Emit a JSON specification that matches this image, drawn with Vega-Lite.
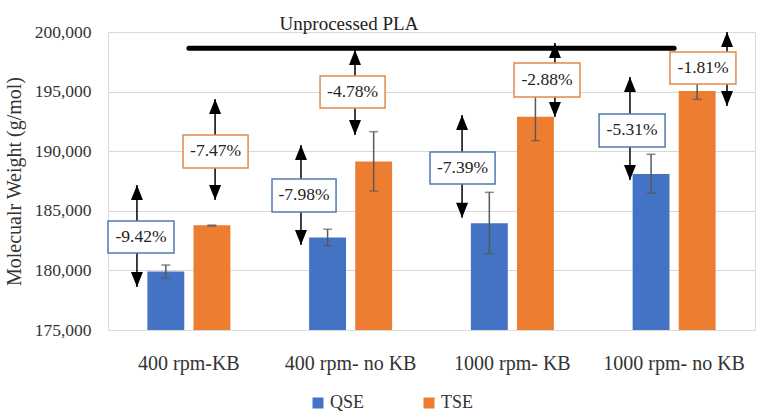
{
  "$schema": "https://vega.github.io/schema/vega-lite/v6.json",
  "width": 647,
  "height": 298,
  "autosize": "none",
  "padding": {"left": 108, "top": 32, "right": 11, "bottom": 88},
  "background": "white",
  "config": {
    "font": "Liberation Serif",
    "view": {"stroke": "#d9d9d9", "strokeWidth": 1},
    "axis": {"gridColor": "#d9d9d9", "gridWidth": 1, "domain": false, "ticks": false, "labelColor": "#333333", "titleColor": "#333333", "labelFont": "Liberation Serif", "titleFont": "Liberation Serif", "titleFontWeight": "normal"},
    "legend": {"labelFont": "Liberation Serif"},
    "text": {"font": "Liberation Serif"}
  },
  "datasets": {
    "bars": [
      {"group": "400 rpm-KB", "series": "QSE", "value": 179900, "lo": 179360, "hi": 180450},
      {"group": "400 rpm-KB", "series": "TSE", "value": 183780, "lo": 183720, "hi": 183800},
      {"group": "400 rpm- no KB", "series": "QSE", "value": 182770, "lo": 182070, "hi": 183450},
      {"group": "400 rpm- no KB", "series": "TSE", "value": 189130, "lo": 186660, "hi": 191640},
      {"group": "1000 rpm- KB", "series": "QSE", "value": 183950, "lo": 181380, "hi": 186550},
      {"group": "1000 rpm- KB", "series": "TSE", "value": 192900, "lo": 190880, "hi": 194940},
      {"group": "1000 rpm- no KB", "series": "QSE", "value": 188080, "lo": 186470, "hi": 189740},
      {"group": "1000 rpm- no KB", "series": "TSE", "value": 195050, "lo": 194350, "hi": 195800}
    ],
    "notes": [
      {"label": "-9.42%", "series": "QSE", "bx1": 0.0, "bx2": 0.408, "by1": 181460, "by2": 184144, "tx": 0.204, "ty": 182800, "ax": 0.179, "up": 187164, "down": 178607},
      {"label": "-7.47%", "series": "TSE", "bx1": 0.464, "bx2": 0.866, "by1": 188591, "by2": 191359, "tx": 0.665, "ty": 189975, "ax": 0.662, "up": 194379, "down": 185906},
      {"label": "-7.98%", "series": "QSE", "bx1": 1.014, "bx2": 1.41, "by1": 184899, "by2": 187668, "tx": 1.212, "ty": 186284, "ax": 1.193, "up": 190520, "down": 182131},
      {"label": "-4.78%", "series": "TSE", "bx1": 1.311, "bx2": 1.713, "by1": 193624, "by2": 196309, "tx": 1.512, "ty": 194966, "ax": 1.527, "up": 198490, "down": 191359},
      {"label": "-7.39%", "series": "QSE", "bx1": 1.991, "bx2": 2.393, "by1": 187248, "by2": 189933, "tx": 2.192, "ty": 188591, "ax": 2.189, "up": 193037, "down": 184421},
      {"label": "-2.88%", "series": "TSE", "bx1": 2.51, "bx2": 2.918, "by1": 194547, "by2": 197399, "tx": 2.714, "ty": 195973, "ax": 2.763, "up": 199077, "down": 192869},
      {"label": "-5.31%", "series": "QSE", "bx1": 3.036, "bx2": 3.444, "by1": 190352, "by2": 193121, "tx": 3.24, "ty": 191737, "ax": 3.227, "up": 196225, "down": 187584},
      {"label": "-1.81%", "series": "TSE", "bx1": 3.474, "bx2": 3.882, "by1": 195638, "by2": 198322, "tx": 3.679, "ty": 196980, "ax": 3.827, "up": 200000, "down": 193792}
    ],
    "pla": [
      {"x1": 0.5, "x2": 3.5, "y": 198630, "label": "Unprocessed PLA", "lx": 1.49, "ly": 200170}
    ]
  },
  "resolve": {"scale": {"x": "independent"}},
  "layer": [
    {
      "data": {"name": "bars"},
      "encoding": {
        "x": {"field": "group", "type": "nominal", "sort": null, "title": null,
              "scale": {"paddingInner": 0.487, "paddingOuter": 0.2435},
              "axis": {"labelAngle": 0, "labelFontSize": 20, "labelPadding": 23, "grid": false, "labelFont": "Liberation Serif"}},
        "xOffset": {"field": "series", "type": "nominal", "scale": {"paddingInner": 0.2, "paddingOuter": 0}}
      },
      "layer": [
        {
          "mark": {"type": "bar", "clip": true},
          "encoding": {
            "y": {"field": "value", "type": "quantitative", "title": "Molecualr Weight (g/mol)",
                  "scale": {"domain": [175000, 200000], "nice": false, "zero": false},
                  "axis": {"values": [175000, 180000, 185000, 190000, 195000, 200000], "format": ",d", "labelFontSize": 17.5, "labelPadding": 17, "titleFontSize": 20, "titlePadding": 10, "labelFont": "Liberation Serif", "titleFont": "Liberation Serif"}},
            "color": {"field": "series", "type": "nominal",
                      "scale": {"domain": ["QSE", "TSE"], "range": ["#4472C4", "#ED7D31"]},
                      "legend": {"title": null, "orient": "none", "legendX": 201, "legendY": 362, "direction": "horizontal", "symbolType": "square", "symbolSize": 121, "symbolStrokeWidth": 0, "labelFontSize": 18, "labelFont": "Liberation Serif", "labelColor": "#333333", "columnPadding": 55, "padding": 0, "labelOffset": 3}}
          }
        },
        {
          "mark": {"type": "rule", "color": "#595959", "strokeWidth": 1.5},
          "encoding": {
            "y": {"field": "lo", "type": "quantitative", "title": "Molecualr Weight (g/mol)"},
            "y2": {"field": "hi"}
          }
        },
        {
          "mark": {"type": "tick", "color": "#595959", "thickness": 1.5, "size": 9, "orient": "horizontal"},
          "encoding": {"y": {"field": "lo", "type": "quantitative", "title": "Molecualr Weight (g/mol)"}}
        },
        {
          "mark": {"type": "tick", "color": "#595959", "thickness": 1.5, "size": 9, "orient": "horizontal"},
          "encoding": {"y": {"field": "hi", "type": "quantitative", "title": "Molecualr Weight (g/mol)"}}
        }
      ]
    },
    {
      "layer": [
        {
          "data": {"name": "pla"},
          "mark": {"type": "rule", "color": "black", "strokeWidth": 5, "strokeCap": "round"},
          "encoding": {
            "x": {"field": "x1", "type": "quantitative", "scale": {"domain": [0, 4], "nice": false, "zero": false}, "axis": null},
            "x2": {"field": "x2"},
            "y": {"field": "y", "type": "quantitative", "title": "Molecualr Weight (g/mol)"}
          }
        },
        {
          "data": {"name": "pla"},
          "mark": {"type": "text", "font": "Liberation Serif", "fontSize": 19, "color": "#222222", "baseline": "alphabetic", "align": "center", "clip": false},
          "encoding": {
            "x": {"field": "lx", "type": "quantitative", "axis": null},
            "y": {"field": "ly", "type": "quantitative", "title": "Molecualr Weight (g/mol)"},
            "text": {"field": "label"}
          }
        },
        {
          "data": {"name": "notes"},
          "mark": {"type": "rule", "color": "black", "strokeWidth": 1.5},
          "encoding": {
            "x": {"field": "ax", "type": "quantitative", "axis": null},
            "y": {"field": "up", "type": "quantitative", "title": "Molecualr Weight (g/mol)"},
            "y2": {"field": "down"}
          }
        },
        {
          "data": {"name": "notes"},
          "mark": {"type": "rect", "fill": "white", "strokeWidth": 1.5},
          "encoding": {
            "x": {"field": "bx1", "type": "quantitative", "axis": null},
            "x2": {"field": "bx2"},
            "y": {"field": "by1", "type": "quantitative", "title": "Molecualr Weight (g/mol)"},
            "y2": {"field": "by2"},
            "stroke": {"field": "series", "type": "nominal", "scale": {"domain": ["QSE", "TSE"], "range": ["#5079B3", "#E08A4E"]}, "legend": null}
          }
        },
        {
          "data": {"name": "notes"},
          "mark": {"type": "text", "font": "Liberation Serif", "fontSize": 17.5, "color": "#222222", "baseline": "middle", "align": "center"},
          "encoding": {
            "x": {"field": "tx", "type": "quantitative", "axis": null},
            "y": {"field": "ty", "type": "quantitative", "title": "Molecualr Weight (g/mol)"},
            "text": {"field": "label"}
          }
        },
        {
          "data": {"name": "notes"},
          "mark": {"type": "point", "shape": "M0,-1L-0.8,1L0.8,1Z", "size": 225, "filled": true, "color": "black", "opacity": 1, "yOffset": 7.5},
          "encoding": {
            "x": {"field": "ax", "type": "quantitative", "axis": null},
            "y": {"field": "up", "type": "quantitative", "title": "Molecualr Weight (g/mol)"}
          }
        },
        {
          "data": {"name": "notes"},
          "mark": {"type": "point", "shape": "M0,1L-0.8,-1L0.8,-1Z", "size": 225, "filled": true, "color": "black", "opacity": 1, "yOffset": -7.5},
          "encoding": {
            "x": {"field": "ax", "type": "quantitative", "axis": null},
            "y": {"field": "down", "type": "quantitative", "title": "Molecualr Weight (g/mol)"}
          }
        }
      ]
    }
  ]
}
